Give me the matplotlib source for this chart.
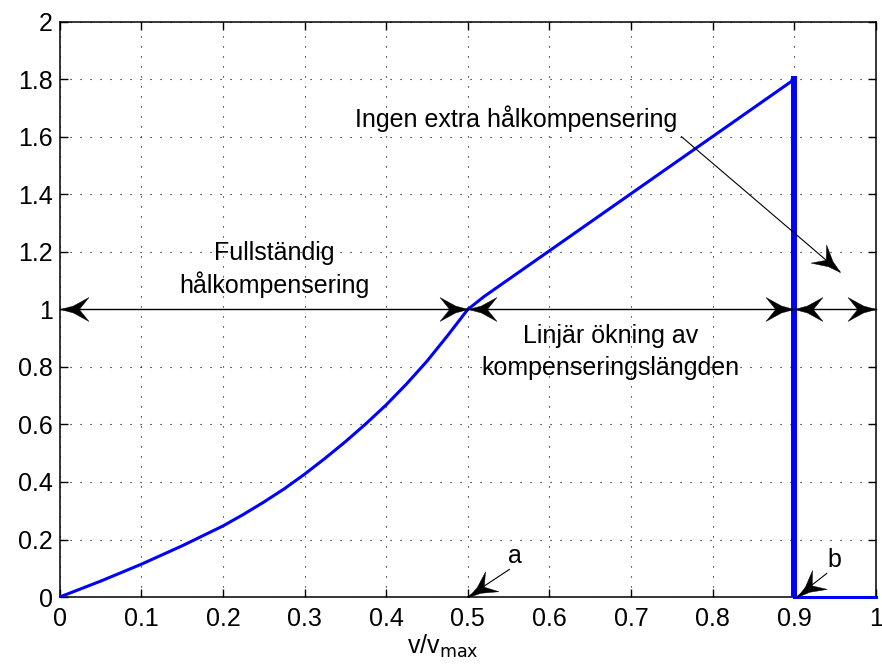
import numpy as np
import matplotlib
matplotlib.use("Agg")
import matplotlib.pyplot as plt
from matplotlib.path import Path
from matplotlib.markers import MarkerStyle
from matplotlib.transforms import Affine2D

plt.rcParams["font.family"] = ["Liberation Sans", "DejaVu Sans"]

# full compensation region: curved rise up to v/vmax = 0.5
x_full = [0, 0.05, 0.1, 0.15, 0.2, 0.225, 0.25, 0.275, 0.3, 0.325, 0.35, 0.375,
          0.4, 0.425, 0.45, 0.475, 0.5]
y_full = [0, 0.055, 0.114, 0.178, 0.247, 0.287, 0.33, 0.376, 0.427, 0.482, 0.54, 0.602,
          0.668, 0.741, 0.82, 0.908, 1.0]

# linear increase of the compensation length
x_lin = [0.5, 0.52, 0.9]
y_lin = [1.0, 1.045, 1.8]

# drop to zero, no extra compensation
x_drop = [0.9, 0.9]
y_drop = [1.8, 0.0]
x_zero = [0.9, 1.0]
y_zero = [0.0, 0.0]

x_ticks = [0, 0.1, 0.2, 0.3, 0.4, 0.5, 0.6, 0.7, 0.8, 0.9, 1]
x_ticklabels = ["0", "0.1", "0.2", "0.3", "0.4", "0.5", "0.6", "0.7", "0.8", "0.9", "1"]
y_ticks = [0, 0.2, 0.4, 0.6, 0.8, 1.0, 1.2, 1.4, 1.6, 1.8, 2.0]
y_ticklabels = ["0", "0.2", "0.4", "0.6", "0.8", "1", "1.2", "1.4", "1.6", "1.8", "2"]

# region borders along y = 1
region_edges = [0.0, 0.5, 0.9, 1.0]

BLUE = "#0000ff"
FS = 18

# arrowhead with a notched back, tip at the origin pointing along +x
HEAD = Path(
    [(0, 0), (-0.45, 0.12), (-1, 0.42), (-0.66, 0), (-1, -0.42), (-0.45, -0.12), (0, 0)],
    [Path.MOVETO, Path.LINETO, Path.LINETO, Path.LINETO, Path.LINETO, Path.LINETO, Path.CLOSEPOLY],
)


def draw_head(ax, pt, angle):
    m = MarkerStyle(HEAD, transform=Affine2D().rotate_deg(angle))
    ax.plot([pt[0]], [pt[1]], ls="none", marker=m, ms=41, color="k",
            mew=0.3, clip_on=False, zorder=5)


def draw_arrow(ax, p0, p1, both=False, lw=1.0):
    ax.plot([p0[0], p1[0]], [p0[1], p1[1]], color="k", lw=lw, clip_on=False, zorder=4)
    d0, d1 = ax.transData.transform([p0, p1])
    ang = np.degrees(np.arctan2(d1[1] - d0[1], d1[0] - d0[0]))
    draw_head(ax, p1, ang)
    if both:
        draw_head(ax, p0, ang + 180)


fig = plt.figure(figsize=(8.82, 6.64), dpi=100)
ax = fig.add_axes([0.0677, 0.1009, 0.9252, 0.866])
ax.set_xlim(0, 1)
ax.set_ylim(0, 2)

ax.plot(x_full, y_full, color=BLUE, lw=2.2, zorder=3)
ax.plot(x_lin, y_lin, color=BLUE, lw=2.2, zorder=3)
ax.plot(x_drop, y_drop, color=BLUE, lw=4.3, zorder=3)
ax.plot(x_zero, y_zero, color=BLUE, lw=2.2, zorder=3, clip_on=False)

ax.set_xticks(x_ticks)
ax.set_xticklabels(x_ticklabels)
ax.set_yticks(y_ticks)
ax.set_yticklabels(y_ticklabels)
ax.tick_params(direction="in", length=6, width=1, top=True, right=True,
               labelsize=FS, colors="k")
ax.tick_params(axis="x", pad=7)
ax.tick_params(axis="y", pad=5)
ax.grid(True, color="k", lw=0.8, linestyle=(0, (1, 8)))
for sp in ax.spines.values():
    sp.set_linewidth(1.1)
    sp.set_color("k")

ax.set_xlabel(r"v/v$_{\mathrm{max}}$", fontsize=FS)
ax.xaxis.set_label_coords(0.47, -0.062)

# double arrows marking the three regions
for a, b in zip(region_edges[:-1], region_edges[1:]):
    draw_arrow(ax, (a, 1.0), (b, 1.0), both=True, lw=1.0)

ax.text(0.263, 1.172, "Fullständig", fontsize=FS, ha="center", va="baseline")
ax.text(0.263, 1.056, "hålkompensering", fontsize=FS, ha="center", va="baseline")
ax.text(0.675, 0.885, "Linjär ökning av", fontsize=FS, ha="center", va="baseline")
ax.text(0.675, 0.772, "kompenseringslängden", fontsize=FS, ha="center", va="baseline")

ax.text(0.559, 1.636, "Ingen extra hålkompensering", fontsize=FS, ha="center", va="baseline")
draw_arrow(ax, (0.762, 1.601), (0.956, 1.131), lw=0.8)

ax.text(0.558, 0.117, "a", fontsize=FS, ha="center", va="baseline")
draw_arrow(ax, (0.551, 0.096), (0.5, 0.0), lw=0.8)
ax.text(0.949, 0.105, "b", fontsize=FS, ha="center", va="baseline")
draw_arrow(ax, (0.94, 0.082), (0.903, 0.0), lw=0.8)

fig.savefig("out.png", dpi=100)
